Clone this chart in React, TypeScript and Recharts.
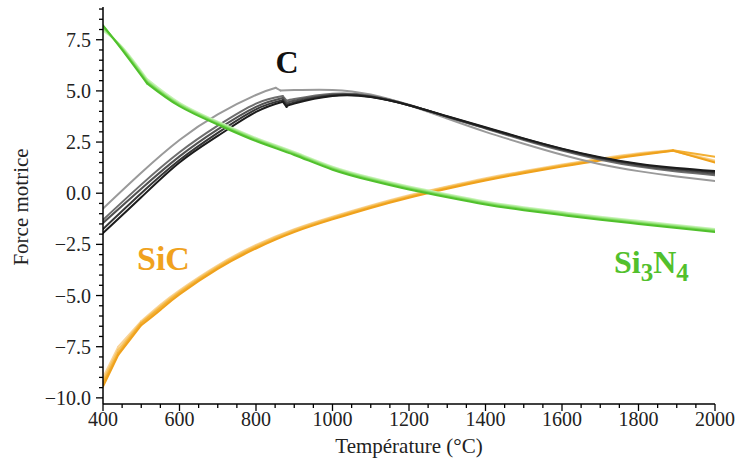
import React from "react";
import { LineChart, Line, XAxis, YAxis } from "recharts";

// Temperature grids (°C)
const cLightT = [400, 500, 600, 700, 800, 852, 864, 900, 1000, 1100, 1200, 1300, 1400, 1500, 1600, 1700, 1800, 1900, 2000];
const cDarkT = [400, 500, 600, 700, 800, 870, 880, 900, 1000, 1100, 1200, 1300, 1400, 1500, 1600, 1700, 1800, 1900, 2000];
const sicT = [400, 440, 500, 550, 600, 700, 800, 900, 1000, 1100, 1200, 1300, 1400, 1500, 1600, 1700, 1800, 1890, 2000];
const si3n4T = [400, 450, 515, 600, 700, 800, 900, 1000, 1100, 1200, 1300, 1400, 1500, 1600, 1700, 1800, 1900, 2000];

// indices where the curve has a kink (phase change)
const cBreaks = [5, 6];
const sicBreaks = [1, 2, 17];
const si3n4Breaks = [2];

// C series (light -> dark)
const c1 = [-0.75, 1.0, 2.6, 3.85, 4.8, 5.15, 5.02, 5.04, 5.05, 4.82, 4.3, 3.65, 3.0, 2.42, 1.88, 1.42, 1.08, 0.82, 0.6];
const c2 = [-1.3, 0.42, 2.0, 3.3, 4.38, 4.75, 4.52, 4.6, 4.86, 4.76, 4.32, 3.73, 3.16, 2.6, 2.08, 1.64, 1.3, 1.06, 0.88];
const c3 = [-1.45, 0.22, 1.8, 3.12, 4.22, 4.65, 4.4, 4.52, 4.81, 4.73, 4.3, 3.74, 3.18, 2.63, 2.12, 1.69, 1.36, 1.13, 0.95];
const c4 = [-1.75, 0.0, 1.62, 2.95, 4.1, 4.55, 4.3, 4.44, 4.78, 4.71, 4.3, 3.75, 3.2, 2.66, 2.16, 1.73, 1.41, 1.19, 1.02];
const c5 = [-1.95, -0.2, 1.5, 2.8, 3.97, 4.47, 4.22, 4.38, 4.75, 4.7, 4.3, 3.76, 3.22, 2.68, 2.18, 1.76, 1.44, 1.23, 1.08];

// SiC series
const s1 = [-9.45, -7.9, -6.45, -5.7, -4.95, -3.7, -2.7, -1.9, -1.28, -0.72, -0.22, 0.22, 0.62, 0.98, 1.3, 1.6, 1.86, 2.08, 1.5];
const s2 = [-9.3, -7.8, -6.35, -5.6, -4.87, -3.63, -2.64, -1.85, -1.23, -0.68, -0.18, 0.26, 0.66, 1.02, 1.34, 1.63, 1.89, 2.1, 1.78];
const s3 = [-9.15, -7.65, -6.3, -5.52, -4.8, -3.57, -2.58, -1.8, -1.19, -0.64, -0.14, 0.3, 0.7, 1.05, 1.37, 1.66, 1.92, 2.08, 1.55];
const s4 = [-9.0, -7.5, -6.25, -5.45, -4.74, -3.52, -2.53, -1.76, -1.15, -0.6, -0.1, 0.33, 0.73, 1.08, 1.4, 1.69, 1.95, 2.1, 1.6];

// Si3N4 series
const g1 = [8.2, 7.0, 5.37, 4.25, 3.35, 2.55, 1.87, 1.15, 0.62, 0.18, -0.2, -0.55, -0.83, -1.07, -1.3, -1.5, -1.7, -1.9];
const g2 = [8.15, 7.05, 5.43, 4.3, 3.4, 2.6, 1.92, 1.2, 0.67, 0.23, -0.15, -0.5, -0.78, -1.02, -1.25, -1.45, -1.65, -1.85];
const g3 = [8.05, 7.1, 5.5, 4.36, 3.45, 2.65, 1.97, 1.25, 0.72, 0.28, -0.1, -0.45, -0.73, -0.97, -1.2, -1.4, -1.6, -1.8];
const g4 = [7.95, 7.15, 5.58, 4.42, 3.5, 2.7, 2.02, 1.3, 0.77, 0.33, -0.05, -0.4, -0.68, -0.92, -1.15, -1.35, -1.55, -1.75];

const xTicks = [400, 450, 500, 550, 600, 650, 700, 750, 800, 850, 900, 950, 1000, 1050, 1100, 1150, 1200, 1250, 1300, 1350, 1400, 1450, 1500, 1550, 1600, 1650, 1700, 1750, 1800, 1850, 1900, 1950, 2000];
const yTicks = [-10, -9.5, -9, -8.5, -8, -7.5, -7, -6.5, -6, -5.5, -5, -4.5, -4, -3.5, -3, -2.5, -2, -1.5, -1, -0.5, 0, 0.5, 1, 1.5, 2, 2.5, 3, 3.5, 4, 4.5, 5, 5.5, 6, 6.5, 7, 7.5, 8, 8.5, 9];

// split a series into smooth pieces at its kink indices
const pieces = (t: number[], v: number[], breaks: number[]) => {
  const cuts = [0, ...breaks, t.length - 1];
  const out: { T: number; v: number }[][] = [];
  for (let k = 0; k < cuts.length - 1; k++) {
    const seg: { T: number; v: number }[] = [];
    for (let i = cuts[k]; i <= cuts[k + 1]; i++) seg.push({ T: t[i], v: v[i] });
    out.push(seg);
  }
  return out;
};

const series = [
  { t: sicT, v: s4, b: sicBreaks, color: "#f9d49a" },
  { t: sicT, v: s3, b: sicBreaks, color: "#f6c463" },
  { t: sicT, v: s2, b: sicBreaks, color: "#f3b034" },
  { t: sicT, v: s1, b: sicBreaks, color: "#efa11c" },
  { t: cLightT, v: c1, b: cBreaks, color: "#9a9a9a" },
  { t: cDarkT, v: c2, b: cBreaks, color: "#6e6e6e" },
  { t: cDarkT, v: c3, b: cBreaks, color: "#515151" },
  { t: cDarkT, v: c4, b: cBreaks, color: "#363636" },
  { t: cDarkT, v: c5, b: cBreaks, color: "#1c1c1c" },
  { t: si3n4T, v: g4, b: si3n4Breaks, color: "#c6f3b4" },
  { t: si3n4T, v: g3, b: si3n4Breaks, color: "#a2e78a" },
  { t: si3n4T, v: g2, b: si3n4Breaks, color: "#78d656" },
  { t: si3n4T, v: g1, b: si3n4Breaks, color: "#50c02c" },
];

const FONT = "'Liberation Serif', 'DejaVu Serif', serif";

const XTick = (props: any) => {
  const { x, y, payload } = props;
  const v = payload.value;
  const major = v % 200 === 0;
  return (
    <g>
      <line x1={x} x2={x} y1={y} y2={y + (major ? 7 : 4)} stroke="#000" strokeWidth={1.3} />
      {major && (
        <text x={x} y={y + 22} textAnchor="middle" fontSize={20} fontFamily={FONT} fill="#222">
          {v}
        </text>
      )}
    </g>
  );
};

const YTick = (props: any) => {
  const { x, y, payload } = props;
  const v = payload.value;
  const major = Math.abs(v / 2.5 - Math.round(v / 2.5)) < 1e-6;
  const label = v.toFixed(1).replace("-", "\u2212");
  return (
    <g>
      <line x1={x} x2={x - (major ? 7 : 4)} y1={y} y2={y} stroke="#000" strokeWidth={1.3} />
      {major && (
        <text x={x - 12} y={y + 7} textAnchor="end" fontSize={20} fontFamily={FONT} fill="#222">
          {label}
        </text>
      )}
    </g>
  );
};

export default function App() {
  const lines: React.ReactNode[] = [];
  series.forEach((s, i) => {
    pieces(s.t, s.v, s.b).forEach((seg, j) => {
      lines.push(
        <Line
          key={`${i}-${j}`}
          data={seg}
          dataKey="v"
          type={seg.length > 2 ? "natural" : "linear"}
          stroke={s.color}
          strokeWidth={2}
          strokeLinecap="round"
          dot={false}
          activeDot={false}
          isAnimationActive={false}
        />
      );
    });
  });
  return (
    <div style={{ position: "absolute", left: 0, top: 0, width: 739, height: 469, background: "#fff" }}>
      <LineChart width={739} height={469} margin={{ top: 7, right: 24, left: 43, bottom: 35 }}>
        <XAxis
          dataKey="T"
          type="number"
          domain={[400, 2000]}
          ticks={xTicks}
          interval={0}
          allowDataOverflow
          height={30}
          tickSize={0}
          tickMargin={0}
          tickLine={false}
          axisLine={{ stroke: "#000", strokeWidth: 1.5 }}
          tick={<XTick />}
        />
        <YAxis
          type="number"
          domain={[-10.3, 9.1]}
          ticks={yTicks}
          interval={0}
          allowDataOverflow
          width={60}
          tickSize={0}
          tickMargin={0}
          tickLine={false}
          axisLine={{ stroke: "#000", strokeWidth: 1.5 }}
          tick={<YTick />}
        />
        {lines}
      </LineChart>
      <svg
        width={739}
        height={469}
        style={{ position: "absolute", left: 0, top: 0, pointerEvents: "none" }}
      >
        <text x={409} y={453} textAnchor="middle" fontSize={21} fontFamily={FONT} fill="#222">
          Température (°C)
        </text>
        <text
          x={0}
          y={0}
          transform="translate(28,207) rotate(-90)"
          textAnchor="middle"
          fontSize={21}
          fontFamily={FONT}
          fill="#222"
        >
          Force motrice
        </text>
        <text x={287} y={73} textAnchor="middle" fontSize={32} fontWeight="bold" fontFamily={FONT} fill="#111">
          C
        </text>
        <text x={137} y={270} fontSize={34} fontWeight="bold" fontFamily={FONT} fill="#f0a21e">
          SiC
        </text>
        <text x={614} y={273} fontSize={32} fontWeight="bold" fontFamily={FONT} fill="#52c02c">
          Si
          <tspan fontSize={25} dy={8}>3</tspan>
          <tspan dy={-8} fontSize={32}>N</tspan>
          <tspan fontSize={25} dy={8}>4</tspan>
        </text>
      </svg>
    </div>
  );
}
